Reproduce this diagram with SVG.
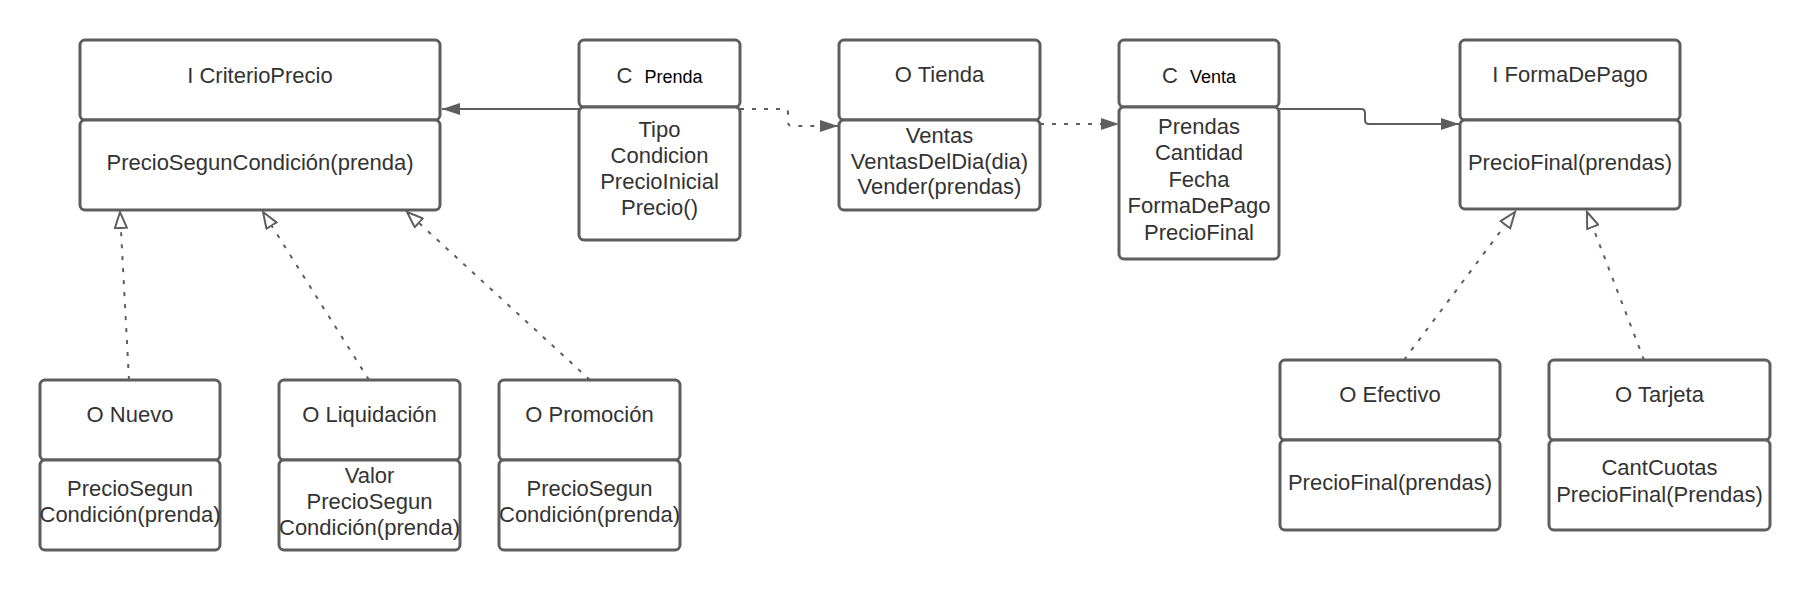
<svg xmlns="http://www.w3.org/2000/svg" width="1810" height="590" viewBox="0 0 1810 590">
<defs>
<style>
.box{fill:#ffffff;stroke:#5e5e5e;stroke-width:3}
.t{font-family:"Liberation Sans",Arial,sans-serif;font-size:22px;fill:#333333;text-anchor:middle}
.s{font-size:18px;fill:#000000}
.ln{fill:none;stroke:#5e5e5e;stroke-width:2}
.dot{stroke-dasharray:4 8}
</style>
<marker id="filled" markerUnits="userSpaceOnUse" markerWidth="18" markerHeight="12" refX="18" refY="6" orient="auto">
<path d="M0,0 L18,6 L0,12 z" fill="#5e5e5e" stroke="none"/>
</marker>
<marker id="hollow" markerUnits="userSpaceOnUse" markerWidth="20" markerHeight="14" refX="17" refY="7" orient="auto">
<path d="M1,1 L17,7 L1,13 z" fill="#ffffff" stroke="#5e5e5e" stroke-width="2" stroke-dasharray="none"/>
</marker>
</defs>
<rect width="1810" height="590" fill="#ffffff"/>

<g id="connectors">
<path class="ln" d="M579,109 L442,109" marker-end="url(#filled)"/>
<path class="ln dot" d="M740,109 L784,109 Q788,109 788,113 L788,122 Q788,126 792,126 L838,126" marker-end="url(#filled)"/>
<path class="ln dot" d="M1040,124 L1119,124" marker-end="url(#filled)"/>
<path class="ln" d="M1279,109 L1361,109 Q1365,109 1365,113 L1365,120 Q1365,124 1369,124 L1459,124" marker-end="url(#filled)"/>
<path class="ln dot" d="M129,380 L120,212" marker-end="url(#hollow)"/>
<path class="ln dot" d="M369,380 L263,212" marker-end="url(#hollow)"/>
<path class="ln dot" d="M590,380 L407,212" marker-end="url(#hollow)"/>
<path class="ln dot" d="M1404,360 L1515,212" marker-end="url(#hollow)"/>
<path class="ln dot" d="M1644,360 L1587,212" marker-end="url(#hollow)"/>
</g>

<g id="criterioPrecio">
<rect class="box" x="80" y="40" width="360" height="80" rx="5"/>
<rect class="box" x="80" y="120" width="360" height="90" rx="5"/>
<text class="t" x="260" y="83">I CriterioPrecio</text>
<text class="t" x="260" y="170">PrecioSegunCondición(prenda)</text>
</g>

<g id="prenda">
<rect class="box" x="579" y="40" width="161" height="67" rx="5"/>
<rect class="box" x="579" y="107" width="161" height="133" rx="5"/>
<text class="t" x="659.5" y="83">C&#160;&#160;<tspan class="s">Prenda</tspan></text>
<text class="t" x="659.5" y="137">Tipo</text>
<text class="t" x="659.5" y="163">Condicion</text>
<text class="t" x="659.5" y="189">PrecioInicial</text>
<text class="t" x="659.5" y="215">Precio()</text>
</g>

<g id="tienda">
<rect class="box" x="839" y="40" width="201" height="80" rx="5"/>
<rect class="box" x="839" y="120" width="201" height="90" rx="5"/>
<text class="t" x="939.5" y="82">O Tienda</text>
<text class="t" x="939.5" y="143">Ventas</text>
<text class="t" x="939.5" y="169">VentasDelDia(dia)</text>
<text class="t" x="939.5" y="194">Vender(prendas)</text>
</g>

<g id="venta">
<rect class="box" x="1119" y="40" width="160" height="67" rx="5"/>
<rect class="box" x="1119" y="107" width="160" height="152" rx="5"/>
<text class="t" x="1199" y="83">C&#160;&#160;<tspan class="s">Venta</tspan></text>
<text class="t" x="1199" y="134">Prendas</text>
<text class="t" x="1199" y="160">Cantidad</text>
<text class="t" x="1199" y="187">Fecha</text>
<text class="t" x="1199" y="213">FormaDePago</text>
<text class="t" x="1199" y="240">PrecioFinal</text>
</g>

<g id="formaDePago">
<rect class="box" x="1460" y="40" width="220" height="80" rx="5"/>
<rect class="box" x="1460" y="120" width="220" height="89" rx="5"/>
<text class="t" x="1570" y="82">I FormaDePago</text>
<text class="t" x="1570" y="170">PrecioFinal(prendas)</text>
</g>

<g id="nuevo">
<rect class="box" x="40" y="380" width="180" height="80" rx="5"/>
<rect class="box" x="40" y="460" width="180" height="90" rx="5"/>
<text class="t" x="130" y="422">O Nuevo</text>
<text class="t" x="130" y="496">PrecioSegun</text>
<text class="t" x="130" y="522">Condición(prenda)</text>
</g>

<g id="liquidacion">
<rect class="box" x="279" y="380" width="181" height="80" rx="5"/>
<rect class="box" x="279" y="460" width="181" height="90" rx="5"/>
<text class="t" x="369.5" y="422">O Liquidación</text>
<text class="t" x="369.5" y="483">Valor</text>
<text class="t" x="369.5" y="509">PrecioSegun</text>
<text class="t" x="369.5" y="535">Condición(prenda)</text>
</g>

<g id="promocion">
<rect class="box" x="499" y="380" width="181" height="80" rx="5"/>
<rect class="box" x="499" y="460" width="181" height="90" rx="5"/>
<text class="t" x="589.5" y="422">O Promoción</text>
<text class="t" x="589.5" y="496">PrecioSegun</text>
<text class="t" x="589.5" y="522">Condición(prenda)</text>
</g>

<g id="efectivo">
<rect class="box" x="1280" y="360" width="220" height="80" rx="5"/>
<rect class="box" x="1280" y="440" width="220" height="90" rx="5"/>
<text class="t" x="1390" y="402">O Efectivo</text>
<text class="t" x="1390" y="490">PrecioFinal(prendas)</text>
</g>

<g id="tarjeta">
<rect class="box" x="1549" y="360" width="221" height="80" rx="5"/>
<rect class="box" x="1549" y="440" width="221" height="90" rx="5"/>
<text class="t" x="1659.5" y="402">O Tarjeta</text>
<text class="t" x="1659.5" y="475">CantCuotas</text>
<text class="t" x="1659.5" y="502">PrecioFinal(Prendas)</text>
</g>
</svg>
